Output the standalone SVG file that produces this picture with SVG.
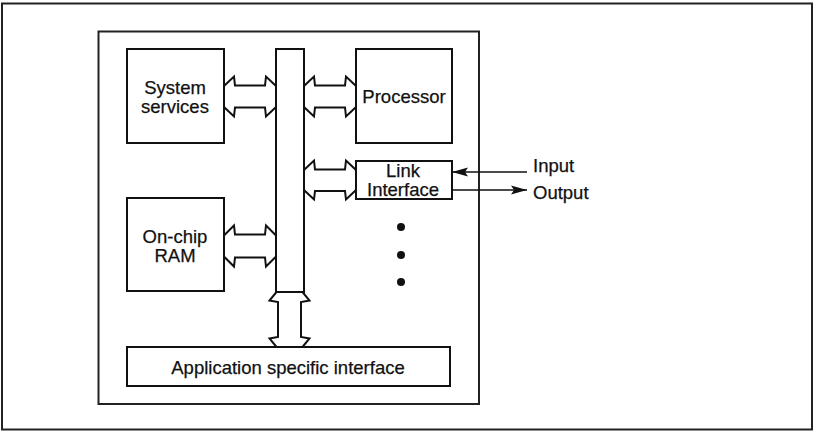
<svg xmlns="http://www.w3.org/2000/svg" width="814" height="432" viewBox="0 0 814 432">
<style>
.box{fill:#fff;stroke:#111;stroke-width:2}
.frame{fill:none;stroke:#222;stroke-width:2}
.bus{fill:#fff;stroke:#111;stroke-width:2;stroke-linejoin:miter}
.line{stroke:#111;stroke-width:1.6;fill:none}
text{font-family:"Liberation Sans",Arial,Helvetica,sans-serif;font-size:18.5px;fill:#111;stroke:#111;stroke-width:0.25}
.c{text-anchor:middle}
</style>
<defs>
<marker id="ah" viewBox="0 0 16 10" refX="16" refY="5" markerWidth="16" markerHeight="10" markerUnits="userSpaceOnUse" orient="auto">
<path d="M0,0.5 L16,5 L0,9.5 L3,5 Z" fill="#111"/>
</marker>
</defs>
<rect class="frame" x="2" y="3.5" width="810" height="426"/>
<g id="chip"><rect class="frame" x="98.5" y="31.5" width="380.5" height="372.5"/></g>
<g id="connectors">
<polygon class="bus" points="224,86 234,76.5 235,85.5 265,85.5 266,76.5 276,86 276,107 266,116.5 265,107.5 235,107.5 234,116.5 224,107"/>
<polygon class="bus" points="304,86 314,76.5 315,85.5 345,85.5 346,76.5 356,86 356,107 346,116.5 345,107.5 315,107.5 314,116.5 304,107"/>
<polygon class="bus" points="304,170 314,160.5 315,169.5 345,169.5 346,160.5 356,170 356,190 346,199.5 345,191 315,191 314,199.5 304,190"/>
<polygon class="bus" points="224,235.5 234,225.5 235,234.5 265,234.5 266,225.5 276,235.5 276,256.5 266,266.5 265,257.5 235,257.5 234,266.5 224,256.5"/>
<polygon class="bus" points="276.5,292 269.5,300.5 278,302 278,337 269.5,338.5 276.5,347 302.5,347 309.5,338.5 301,337 301,302 309.5,300.5 302.5,292"/>
<line class="line" x1="527" y1="172" x2="452" y2="172" marker-end="url(#ah)"/>
<line class="line" x1="452" y1="190" x2="527" y2="190" marker-end="url(#ah)"/>
</g>
<g id="bus"><rect class="box" x="276" y="49" width="28" height="243"/></g>
<g id="system-services"><rect class="box" x="127" y="49" width="97" height="94"/>
<text class="c" x="175" y="94">System</text><text class="c" x="175" y="113">services</text></g>
<g id="processor"><rect class="box" x="356" y="49" width="96" height="94"/>
<text class="c" x="404" y="103">Processor</text></g>
<g id="link-interface"><rect class="box" x="356" y="161" width="96" height="38"/>
<text class="c" x="403" y="176.5">Link</text><text class="c" x="403" y="195.5">Interface</text></g>
<g id="on-chip-ram"><rect class="box" x="127" y="198" width="97" height="93"/>
<text class="c" x="175" y="242.5">On-chip</text><text class="c" x="175" y="261.5">RAM</text></g>
<g id="app-interface"><rect class="box" x="127" y="347" width="323" height="39"/>
<text class="c" x="288" y="374">Application specific interface</text></g>
<g id="io-labels"><text x="533" y="172">Input</text><text x="533" y="199">Output</text></g>
<g id="dots" fill="#111"><circle cx="401" cy="227" r="4"/><circle cx="401" cy="255" r="4"/><circle cx="401" cy="282" r="4"/></g>
</svg>
